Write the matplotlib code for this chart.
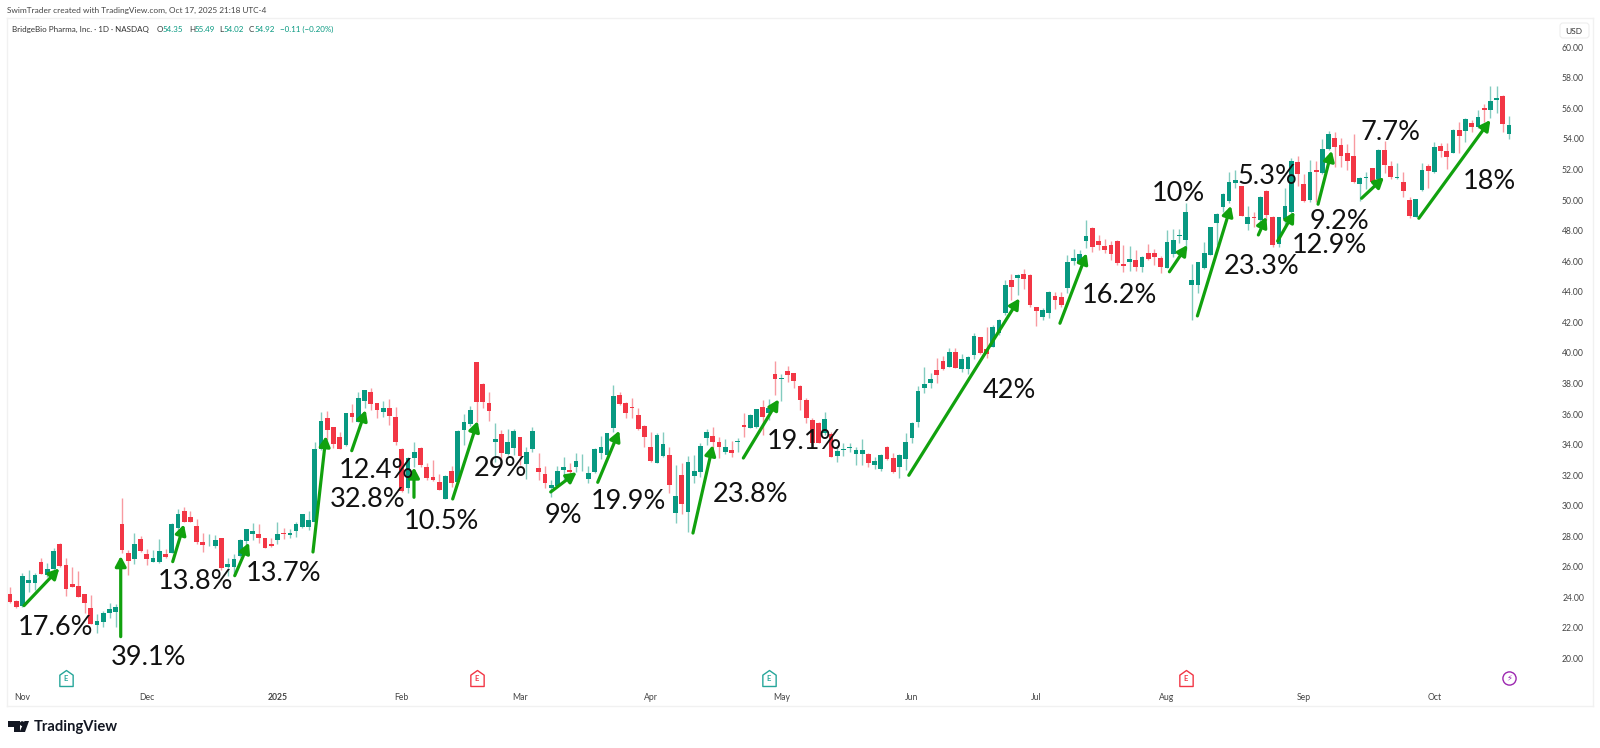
import matplotlib
matplotlib.use("Agg")
import matplotlib.pyplot as plt
from matplotlib.path import Path
from matplotlib.patches import FancyBboxPatch, Polygon, Circle
from matplotlib.transforms import Affine2D

plt.rcParams['font.family'] = ['Lato', 'DejaVu Sans']

opens = [24.20,23.77,23.46,24.94,24.94,26.34,25.47,25.84,27.48,26.10,24.88,24.75,24.23,23.29,22.20,22.37,22.96,23.05,28.78,26.93,
26.49,27.82,26.84,26.34,26.34,26.84,26.89,28.57,29.63,29.29,28.70,27.65,27.67,27.37,27.87,26.01,26.01,26.71,27.69,28.13,
28.13,27.89,27.48,27.76,28.20,28.09,28.35,28.61,28.61,28.95,33.68,35.71,35.12,34.47,33.95,36.08,35.50,36.87,37.46,36.70,
36.15,36.37,35.78,33.71,31.13,33.10,33.79,32.53,31.90,31.52,30.43,32.27,31.57,34.95,35.36,39.38,37.94,36.74,34.14,34.69,
33.40,33.75,34.51,32.70,33.73,32.46,32.07,31.18,31.31,32.33,32.33,32.53,32.96,31.74,32.18,33.44,33.31,35.06,37.24,36.70,
36.43,35.95,35.19,33.82,32.81,33.23,33.34,29.50,32.03,29.56,31.96,32.22,34.45,34.56,34.19,33.49,33.66,34.16,35.28,35.06,
35.12,36.43,36.08,38.59,38.27,38.81,38.70,37.83,36.91,35.58,35.43,34.73,34.67,33.27,33.66,33.77,33.38,33.40,33.36,32.66,
32.40,33.86,33.10,32.51,33.05,34.45,35.45,37.70,38.00,38.85,39.44,39.05,40.08,38.92,38.94,39.88,41.04,40.27,40.40,41.28,
42.59,44.75,44.92,45.14,45.12,42.98,42.37,42.59,43.75,43.66,44.23,46.04,45.93,47.30,48.20,47.30,46.99,47.06,47.35,45.82,
45.95,46.06,45.60,46.54,46.52,46.23,45.58,46.45,47.67,47.39,44.44,44.44,45.58,46.43,48.48,49.57,49.94,51.14,50.94,48.43,
48.89,48.69,50.59,48.89,47.13,48.76,49.24,52.47,51.07,50.00,51.94,51.75,53.32,54.06,53.58,53.06,52.88,51.05,51.46,52.07,
51.35,53.27,52.21,51.44,51.20,49.98,48.91,50.66,52.25,51.86,53.54,53.21,53.10,54.61,54.52,55.06,54.80,56.03,55.90,56.58,
56.81,54.35]
highs = [24.66,23.80,25.58,25.80,25.58,26.56,26.23,27.21,27.54,26.60,25.97,25.75,24.23,24.16,22.92,23.13,23.66,23.57,30.49,27.10,
28.20,28.02,27.15,27.10,27.80,27.15,28.85,29.77,29.94,29.68,29.11,28.20,28.15,28.09,27.87,26.56,26.84,27.80,28.50,28.85,
28.78,27.91,27.87,28.96,28.52,28.46,28.96,29.46,29.65,34.18,36.15,36.19,35.13,34.84,36.08,36.65,37.46,37.57,37.72,36.70,
36.87,36.96,36.43,33.75,33.16,34.14,33.86,32.77,32.99,32.05,32.00,32.62,34.95,36.00,36.54,39.42,38.00,37.46,35.43,34.95,
34.99,34.99,34.51,33.86,35.12,33.42,32.59,31.68,32.59,33.16,32.77,33.42,33.38,32.59,33.75,34.56,34.78,37.89,37.46,36.80,
37.02,36.37,35.28,34.84,34.78,34.80,33.86,32.66,32.77,33.25,33.31,34.08,34.99,35.17,34.47,34.34,34.25,34.45,36.04,35.98,
36.30,36.91,36.96,39.49,38.59,39.14,38.70,37.87,37.02,35.71,35.50,36.11,34.84,33.97,34.08,34.08,33.86,34.36,33.42,33.20,
33.38,33.90,33.42,33.38,34.73,35.50,37.85,39.10,38.70,39.64,39.79,40.34,40.29,39.92,39.79,41.32,41.06,41.67,41.82,42.19,
44.77,45.16,45.16,45.46,45.14,42.98,42.91,44.05,44.01,44.01,46.41,46.78,46.73,48.70,48.22,47.72,47.43,47.35,47.39,47.06,
47.00,46.73,46.34,47.13,46.80,46.34,48.04,48.09,48.09,49.79,45.82,45.97,47.28,48.26,49.13,50.49,51.86,51.97,50.94,49.61,
49.24,50.26,50.66,48.99,48.89,50.77,52.73,52.88,51.70,52.62,52.58,53.97,54.54,54.43,54.04,53.67,54.30,51.49,51.86,52.07,
53.32,53.89,52.58,52.40,51.86,50.22,50.05,52.40,52.34,53.82,53.75,53.75,54.63,55.13,55.35,55.24,55.89,56.29,57.47,57.47,
56.85,55.49]
lows = [23.61,23.33,23.35,24.38,24.49,25.53,25.36,25.69,26.01,24.09,24.66,24.01,22.96,22.26,21.69,22.09,22.63,22.09,26.89,25.47,
26.19,26.99,26.12,26.34,26.28,26.56,26.89,28.30,28.91,28.91,27.50,26.99,27.37,27.21,25.80,25.40,25.58,26.62,27.37,27.76,
27.58,27.21,27.32,27.50,27.80,27.87,27.98,28.55,28.41,28.95,33.64,34.30,33.75,33.71,33.90,35.50,35.50,36.37,36.26,35.71,
35.78,35.28,33.97,30.91,30.80,32.55,32.55,31.68,31.63,31.00,30.41,31.20,31.46,33.97,35.21,35.50,36.37,35.54,32.88,33.10,
33.31,33.31,32.66,31.72,33.53,31.68,31.13,30.54,31.29,31.68,31.68,32.22,32.29,31.46,32.11,33.03,33.31,34.84,36.59,35.71,
35.71,34.95,33.86,32.88,32.77,33.20,30.85,28.84,29.45,28.30,31.50,31.90,33.97,33.75,33.10,33.38,33.16,33.53,34.51,35.06,
35.06,34.62,35.60,37.24,36.85,38.11,37.68,36.26,35.43,33.97,34.08,34.62,33.20,32.88,33.25,33.53,32.66,32.66,32.51,32.37,
32.29,32.99,32.16,31.79,32.33,34.12,35.12,37.35,37.68,38.00,38.88,39.05,38.99,38.77,38.61,39.57,39.92,39.64,40.36,41.17,
42.48,43.46,43.78,44.16,42.98,41.76,42.15,42.26,42.85,43.03,43.90,45.75,45.86,46.84,46.63,46.73,46.56,46.08,45.75,45.32,
45.38,45.38,45.27,46.08,45.75,45.21,45.53,46.30,47.21,46.73,42.15,43.90,45.47,46.41,47.06,49.24,49.79,50.77,48.98,48.04,
48.26,48.15,48.69,46.93,46.90,48.26,49.13,50.92,49.89,49.89,49.89,51.70,53.27,52.18,52.18,51.97,51.09,49.96,50.70,51.09,
51.31,51.79,51.35,51.35,50.22,48.80,48.87,50.61,50.77,51.79,52.79,52.01,53.06,53.06,53.82,54.47,54.69,55.11,55.37,55.70,
54.46,54.02]
closes = [23.72,23.35,25.42,25.14,25.47,25.53,25.84,27.06,26.08,24.55,24.70,24.05,23.66,22.26,22.48,23.00,23.22,23.37,27.10,26.41,
27.48,27.04,26.52,26.56,27.06,26.62,28.78,29.46,28.96,28.91,27.61,27.43,27.72,27.78,25.90,26.19,26.49,27.74,28.50,28.37,
27.91,27.26,27.37,28.17,28.13,28.24,28.81,29.46,29.07,33.68,35.56,34.95,34.03,33.71,36.04,35.80,37.04,37.55,36.63,36.26,
36.41,35.89,34.19,30.96,33.10,33.51,32.64,31.79,31.68,31.05,31.94,31.50,34.88,35.47,36.28,36.76,36.80,36.22,34.34,33.42,
34.19,34.88,33.25,33.51,34.91,32.18,31.50,31.33,32.29,32.55,32.20,32.92,32.99,32.11,33.71,33.86,34.73,37.18,36.67,36.04,
36.37,35.02,34.51,32.94,34.62,34.01,31.33,30.63,30.11,32.83,32.24,33.88,34.84,34.19,33.82,33.84,33.42,34.19,35.17,35.91,
36.30,35.82,36.37,38.29,38.33,38.53,38.16,36.89,35.76,34.12,34.12,35.65,33.20,33.60,33.68,33.79,33.64,33.64,32.77,32.94,
33.29,33.05,32.20,33.34,34.19,35.43,37.50,37.98,38.31,38.57,38.96,40.08,39.03,39.62,39.75,41.10,39.97,39.92,41.69,42.15,
44.42,44.33,45.07,44.81,43.13,42.72,42.78,43.96,43.46,43.14,45.97,46.23,46.47,47.67,46.95,47.08,46.71,46.47,45.86,45.71,
46.17,45.62,46.30,46.17,46.25,45.60,47.24,47.37,47.72,49.20,44.79,45.93,46.56,48.24,49.09,50.38,51.16,51.32,48.98,48.89,
48.85,50.22,49.02,47.06,48.87,49.59,52.58,51.73,49.96,51.81,51.81,53.34,54.30,53.45,52.90,52.55,51.18,51.44,51.49,51.16,
53.30,52.31,51.53,51.49,50.61,48.96,50.05,51.94,51.90,53.45,53.23,52.82,54.58,54.19,55.28,54.76,55.46,55.90,56.51,56.65,
54.98,54.92]

month_labels = ['Nov', 'Dec', '2025', 'Feb', 'Mar', 'Apr', 'May', 'Jun', 'Jul', 'Aug', 'Sep', 'Oct']
month_bars = [2, 22, 43, 63, 82, 103, 124, 145, 165, 186, 208, 229]
price_ticks = list(range(20, 62, 2))

arrow_labels = ['17.6%', '39.1%', '13.8%', '13.7%', '32.8%', '12.4%', '10.5%', '29%', '9%', '19.9%', '23.8%',
                '19.1%', '42%', '16.2%', '10%', '23.3%', '5.3%', '12.9%', '9.2%', '7.7%', '18%']
arrow_bar0 = [2.25, 17.8, 26.16, 36.13, 48.71, 54.94, 64.95, 71.17, 86.93, 94.49, 109.8,
              117.9, 144.5, 168.8, 186.4, 190.9, 200.7, 203.8, 210.3, 217.3, 226.5]
arrow_price0 = [23.46, 21.43, 26.34, 25.42, 26.97, 33.60, 30.55, 30.44, 30.90, 31.53, 28.21,
                33.12, 31.99, 41.94, 45.31, 42.42, 47.72, 47.32, 49.73, 50.12, 48.81]
arrow_bar1 = [7.93, 17.8, 27.97, 38.42, 50.8, 57.19, 64.95, 75.19, 91.11, 97.96, 113.0,
              123.6, 162.3, 173.1, 189.3, 196.3, 202.0, 206.5, 212.5, 220.9, 238.0]
arrow_price1 = [25.90, 26.71, 28.78, 27.58, 34.56, 36.26, 32.51, 35.54, 32.19, 34.91, 33.97,
                36.96, 43.57, 46.52, 47.06, 49.63, 48.91, 49.24, 53.23, 51.49, 55.24]
label_bar = [7.4, 22.35, 29.9, 44.05, 57.56, 59.0, 69.3, 78.78, 88.9, 99.5, 119.0,
             127.65, 160.6, 178.3, 187.9, 201.3, 202.1, 212.1, 213.7, 221.9, 237.8]
label_price = [22.02, 20.06, 25.03, 25.56, 30.40, 32.30, 28.96, 32.43, 29.35, 30.27, 30.73,
               34.20, 37.53, 43.75, 50.43, 45.65, 51.54, 47.05, 48.63, 54.42, 51.21]

earnings_bars = [9, 75, 122, 189]
earnings_colors = ['#26A69A', '#F23645', '#26A69A', '#F23645']
dividend_bar = 241

UP, DOWN = '#089981', '#F23645'
W, H = 1600, 748
fig = plt.figure(figsize=(16, 7.48), dpi=100, facecolor='white')
L, R, T, B = 7, 1593, 18, 706
ax = fig.add_axes([L / W, 1 - B / H, (R - L) / W, (B - T) / H])

n = len(opens)
xs = list(range(n))
cols = [UP if c >= o else DOWN for o, c in zip(opens, closes)]
ax.vlines(xs, lows, highs, colors=cols, linewidth=1.0, alpha=0.5, zorder=2)
ax.bar(xs, [max(abs(c - o), 0.05) for o, c in zip(opens, closes)],
       bottom=[min(o, c) for o, c in zip(opens, closes)], width=0.76, color=cols, linewidth=0, zorder=3)

ax.set_xlim((L - 10) / 6.22, (R - 10) / 6.22)
ax.set_ylim(60 - (B - 47.3) / 15.28, 60 + (47.3 - T) / 15.28)

for lab, x0, y0, x1, y1, lx, ly in zip(arrow_labels, arrow_bar0, arrow_price0, arrow_bar1, arrow_price1,
                                       label_bar, label_price):
    ax.annotate('', xy=(x1, y1), xytext=(x0, y0), zorder=5,
                arrowprops=dict(arrowstyle='-|>,head_length=0.3,head_width=0.16', color='#11A10E',
                                lw=2.3, shrinkA=0, shrinkB=0, mutation_scale=20))
    ax.text(lx, ly, lab, fontsize=19.5, color='#111111', ha='center', va='center', zorder=6)

ax.set_xticks(month_bars)
ax.set_xticklabels(month_labels, fontsize=6.2, color='#444444')
for t in ax.get_xticklabels():
    if t.get_text() == '2025':
        t.set_fontweight('bold')
ax.tick_params(axis='x', length=0, pad=-9.5)
ax.yaxis.tick_right()
ax.set_yticks(price_ticks)
ax.set_yticklabels([f'{v:.2f}' for v in price_ticks], fontsize=6.2, color='#444444', ha='right')
ax.tick_params(axis='y', length=0, pad=-6.5)
for s in ax.spines.values():
    s.set_color('#F1F1F1')
    s.set_linewidth(1)

# event badges
house = Path([(-0.5, -0.6), (-0.5, 0.25), (0, 0.6), (0.5, 0.25), (0.5, -0.6), (-0.5, -0.6)],
             [1, 2, 2, 2, 2, 79])
badge_y = 60 - (678 - 47.3) / 15.28
for bx, bc in zip(earnings_bars, earnings_colors):
    ax.plot([bx], [badge_y], marker=house, ms=11.5, mfc='white', mec=bc, mew=1.0, zorder=7)
    ax.text(bx, badge_y - 0.05, 'E', fontsize=5.5, fontweight='bold', color=bc, ha='center', va='center', zorder=8)
ax.plot([dividend_bar], [badge_y], marker='o', ms=9.5, mfc='white', mec='#9C27B0', mew=1.0, zorder=7)
ax.text(dividend_bar, badge_y, '\u26a1', fontsize=6, color='#9C27B0', ha='center', va='center', zorder=8,
        family=['DejaVu Sans'])

# pixel-positioned page furniture
px = Affine2D().scale(1, -1).translate(0, H)
def ptext(x, y, s, **kw):
    kw.setdefault('va', 'center')
    fig.text(x, y, s, transform=px, **kw)

ptext(7, 10.5, 'SwimTrader created with TradingView.com, Oct 17, 2025 21:18 UTC-4', fontsize=5.95, color='#444444')
ptext(12, 29, 'BridgeBio Pharma, Inc. \u00b7 1D \u00b7 NASDAQ', fontsize=5.75, color='#333333')
for x, s, c in [(157, 'O', '#333333'), (163, '54.35', UP), (189, 'H', '#333333'), (194.5, '55.49', UP),
                (219, 'L', '#333333'), (224, '54.02', UP), (249, 'C', '#333333'), (254.5, '54.92', UP),
                (280, '\u22120.11 (\u22120.20%)', UP)]:
    ptext(x, 29, s, fontsize=5.75, color=c)

fig.add_artist(FancyBboxPatch((1560, 23), 29, 15, boxstyle='round,pad=0,rounding_size=3', transform=px,
                              facecolor='white', edgecolor='#EEEEEE', linewidth=0.8))
ptext(1573.5, 31, 'USD', fontsize=6, color='#333333', ha='center')

# TradingView wordmark
for pts in ([(8, 721), (20, 721), (20, 732), (14, 732), (14, 726.5), (8, 726.5)],
            [(24.5, 721), (29, 721), (25, 732), (19.5, 732)]):
    fig.add_artist(Polygon(pts, closed=True, transform=px, facecolor='#131722', edgecolor='none'))
fig.add_artist(Circle((22.2, 723.6), 2.4, transform=px, facecolor='#131722', edgecolor='none'))
ptext(34, 727, 'TradingView', fontsize=10.6, fontweight='bold', color='#131722')

fig.savefig('out.png', dpi=100, facecolor='white')
